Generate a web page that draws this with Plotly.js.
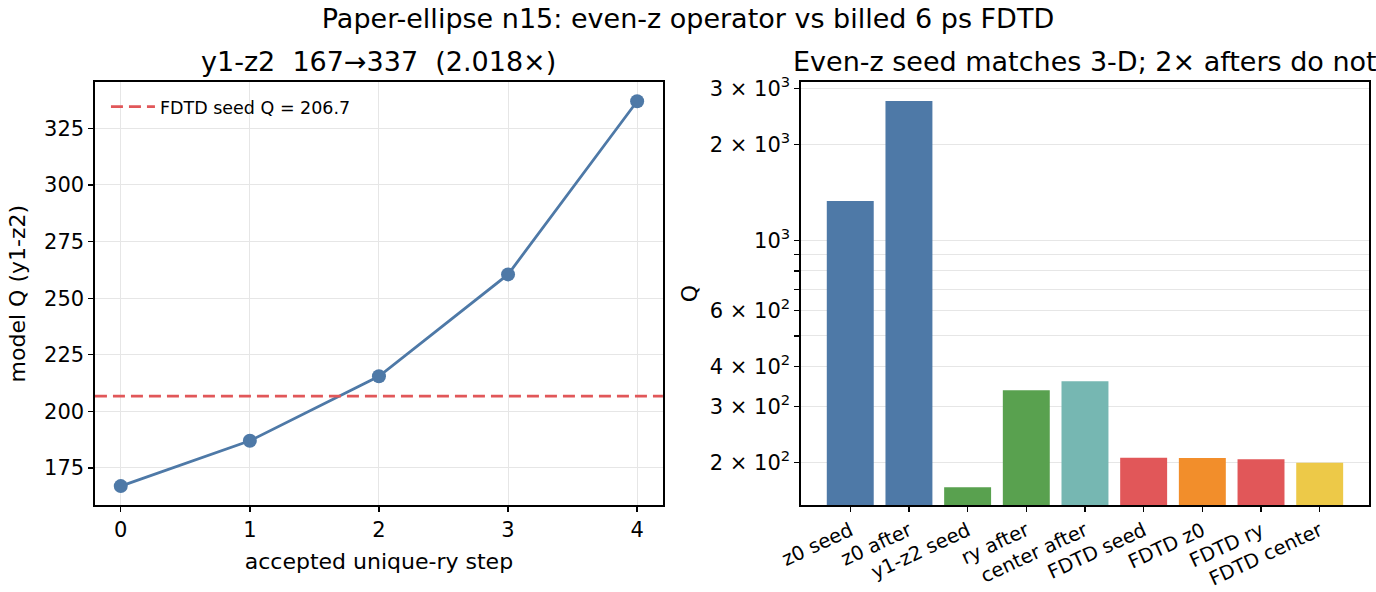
<!DOCTYPE html>
<html>
<head>
<meta charset="utf-8">
<script src="https://cdn.plot.ly/plotly-3.0.1.min.js"></script>
<style>
  body { margin: 0; background: #fff; }
  #chart { width: 1376px; height: 592px; }
</style>
</head>
<body>
<div id="chart"></div>
<script>
// left panel: model Q per accepted step
let steps = [0, 1, 2, 3, 4]
let modelQ = [167.0, 187.0, 215.5, 260.5, 337.0]
let seedQ = 206.7

// right panel: bar chart on log scale
let barNames = ['z0 seed', 'z0 after', 'y1-z2 seed', 'ry after', 'center after',
                'FDTD seed', 'FDTD z0', 'FDTD ry', 'FDTD center']
let barQ = [1327, 2740, 167, 337, 360, 206.7, 206.5, 204.5, 199.5]
let barColors = ['#4e79a7', '#4e79a7', '#59a14f', '#59a14f', '#76b7b2',
                 '#e15759', '#f28e2b', '#e15759', '#edc948']

let logTicks = [200, 300, 400, 500, 600, 700, 800, 900, 1000, 2000, 3000]
let logTickText = ['2 × 10<sup>2</sup>', '3 × 10<sup>2</sup>', '4 × 10<sup>2</sup>', '',
                   '6 × 10<sup>2</sup>', '', '', '', '10<sup>3</sup>',
                   '2 × 10<sup>3</sup>', '3 × 10<sup>3</sup>']

let xRange = [-0.2, 4.2]
let font = 'DejaVu Sans'

var traces = [
    {
        x: steps, y: modelQ, type: 'scatter', mode: 'lines+markers',
        line: { color: '#4e79a7', width: 2.8 },
        marker: { color: '#4e79a7', size: 14 },
        xaxis: 'x', yaxis: 'y', showlegend: false, hoverinfo: 'x+y'
    },
    {
        x: xRange, y: [seedQ, seedQ], type: 'scatter', mode: 'lines',
        line: { color: '#e15759', width: 2.8, dash: '12px,6px' },
        name: 'FDTD seed Q = ' + seedQ.toFixed(1),
        xaxis: 'x', yaxis: 'y', showlegend: true
    },
    {
        x: barNames, y: barQ, type: 'bar', width: 0.8,
        marker: { color: barColors },
        xaxis: 'x2', yaxis: 'y2', showlegend: false
    }
]

var axisCommon = {
    showline: true, mirror: true, linecolor: '#000', linewidth: 1.6,
    ticks: 'outside', ticklen: 5, tickwidth: 1.3, tickcolor: '#000',
    gridcolor: '#e6e6e6', gridwidth: 1, zeroline: false,
    tickfont: { family: font, size: 21, color: '#000' }
}

var layout = {
    width: 1376, height: 592,
    paper_bgcolor: '#fff', plot_bgcolor: '#fff',
    margin: { l: 0, r: 0, t: 0, b: 0 },
    font: { family: font, color: '#000' },
    title: {
        text: 'Paper-ellipse n15: even-z operator vs billed 6 ps FDTD',
        font: { family: font, size: 27, color: '#000' },
        x: 0.5, xanchor: 'center', y: 0.968, yanchor: 'middle'
    },
    xaxis: Object.assign({}, axisCommon, {
        domain: [0.0690, 0.4818], range: xRange, showgrid: true,
        tickvals: steps,
        title: { text: 'accepted unique-ry step', font: { family: font, size: 22 }, standoff: 12 }
    }),
    yaxis: Object.assign({}, axisCommon, {
        domain: [0.1464, 0.8615], range: [158.5, 345.5], showgrid: true,
        tickvals: [175, 200, 225, 250, 275, 300, 325],
        title: { text: 'model Q (y1-z2)', font: { family: font, size: 22 }, standoff: 12 }
    }),
    xaxis2: Object.assign({}, axisCommon, {
        domain: [0.5821, 0.9949], range: [-0.84, 8.84], showgrid: false,
        type: 'category', categoryorder: 'array', categoryarray: barNames,
        tickangle: -25,
        tickfont: { family: font, size: 19.5, color: '#000' }
    }),
    yaxis2: Object.assign({}, axisCommon, {
        domain: [0.1464, 0.8615], type: 'log',
        range: [Math.log10(146.5), Math.log10(3145)],
        showgrid: true, anchor: 'x2',
        tickvals: logTicks, ticktext: logTickText,
        title: { text: 'Q', font: { family: font, size: 22 }, standoff: 6 }
    }),
    legend: {
        x: 0.077, y: 0.85, xanchor: 'left', yanchor: 'top',
        bgcolor: 'rgba(0,0,0,0)', borderwidth: 0, itemwidth: 44,
        font: { family: font, size: 17.5, color: '#000' }
    },
    annotations: [
        {
            text: 'y1-z2  167→337  (2.018×)', xref: 'paper', yref: 'paper',
            x: (0.0690 + 0.4818) / 2, y: 0.8615, xanchor: 'center', yanchor: 'bottom',
            yshift: 3, showarrow: false, font: { family: font, size: 27, color: '#000' }
        },
        {
            text: 'Even-z seed matches 3-D; 2× afters do not', xref: 'paper', yref: 'paper',
            x: (0.5821 + 0.9949) / 2, y: 0.8615, xanchor: 'center', yanchor: 'bottom',
            yshift: 3, showarrow: false, font: { family: font, size: 27, color: '#000' }
        }
    ],
    bargap: 0.2
}
layout.xaxis2.anchor = 'y2'

Plotly.newPlot('chart', traces, layout, { displayModeBar: false, staticPlot: true })
</script>
</body>
</html>
